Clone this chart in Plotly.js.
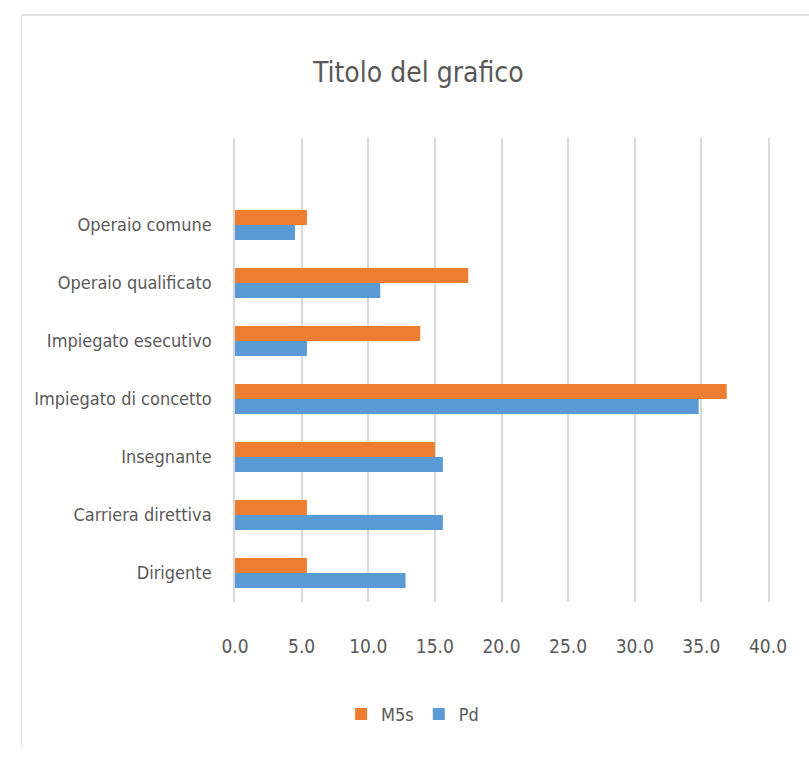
<!DOCTYPE html>
<html>
<head>
<meta charset="utf-8">
<script src="https://cdn.plot.ly/plotly-3.0.1.min.js"></script>
<style>
  body { margin: 0; background: #fff; }
  #chart { width: 809px; height: 759px; }
  #frame { position: absolute; left: 21px; top: 14px; width: 800px; height: 732px;
           border-top: 2px solid #e4e4e4; border-left: 1px solid #e4e4e4; pointer-events: none; }
</style>
</head>
<body>
<div id="chart"></div>
<div id="frame"></div>
<script>
// categories bottom to top, as in the picture
const categorie = ['Dirigente', 'Carriera direttiva', 'Insegnante', 'Impiegato di concetto',
                   'Impiegato esecutivo', 'Operaio qualificato', 'Operaio comune'];
const m5s = [5.4, 5.4, 15.0, 36.9, 13.9, 17.5, 5.4];
const pd = [12.8, 15.6, 15.6, 34.8, 5.4, 10.9, 4.5];
const xticks = [0, 5, 10, 15, 20, 25, 30, 35, 40];

const font = 'Liberation Sans Narrow, DejaVu Sans Condensed, sans-serif';
const grey = '#595959';

const data = [
  { type: 'bar', orientation: 'h', name: 'Pd', y: categorie, x: pd,
    marker: { color: '#5B9BD5' }, hoverinfo: 'x+name' },
  { type: 'bar', orientation: 'h', name: 'M5s', y: categorie, x: m5s,
    marker: { color: '#ED7D31' }, hoverinfo: 'x+name' }
];

const layout = {
  width: 809, height: 759,
  margin: { l: 235, r: 41, t: 138, b: 157 },
  paper_bgcolor: '#fff', plot_bgcolor: '#fff',
  font: { family: font, color: grey, size: 18 },
  title: { text: 'Titolo del grafico', font: { family: font, size: 28, color: grey },
           x: 0.517, xanchor: 'center', y: 0.905, yanchor: 'middle' },
  barmode: 'group', bargap: 0.48, bargroupgap: 0,
  xaxis: {
    range: [0, 40], tickvals: xticks, ticktext: xticks.map(v => v.toFixed(1)),
    showgrid: true, gridcolor: '#d9d9d9', gridwidth: 1.5, zeroline: false, showline: false,
    ticks: 'outside', ticklen: 27, tickcolor: 'rgba(0,0,0,0)',
    tickfont: { size: 19, color: grey }
  },
  yaxis: {
    type: 'category', categoryorder: 'array', categoryarray: categorie,
    range: [-0.5, 7.5], showgrid: false, zeroline: false,
    showline: true, mirror: true, linecolor: '#d9d9d9', linewidth: 1.5,
    ticks: 'outside', ticklen: 18, tickcolor: 'rgba(0,0,0,0)',
    tickfont: { size: 18, color: grey }
  },
  showlegend: true,
  legend: { orientation: 'h', traceorder: 'reversed', xref: 'container', yref: 'container',
            x: 0.51, xanchor: 'center', y: 0.059, yanchor: 'middle',
            font: { size: 18, color: grey }, itemwidth: 30 }
};

Plotly.newPlot('chart', data, layout, { displayModeBar: false });
</script>
</body>
</html>
